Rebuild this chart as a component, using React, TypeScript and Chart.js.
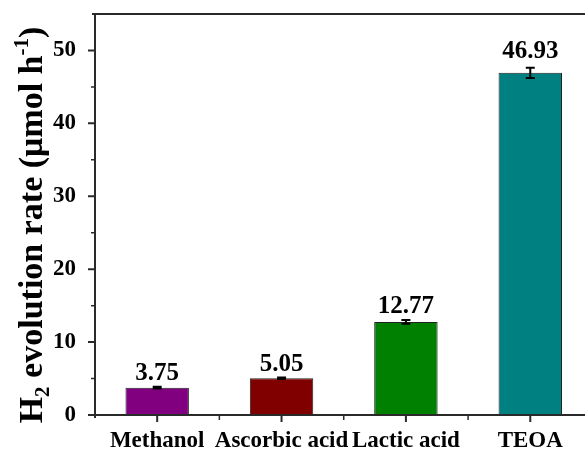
import React, { useEffect, useRef } from "react";
import { Chart, registerables } from "chart.js";

Chart.register(...registerables);

// Sacrificial agents and their H2 evolution rates (µmol h^-1)
const categories = ["Methanol", "Ascorbic acid", "Lactic acid", "TEOA"];
const rates = [3.75, 5.05, 12.77, 46.93];
const rateErrors = [0.12, 0.1, 0.25, 0.7];
const barColors = ["#800080", "#800000", "#008000", "#008080"];
const yMajorTicks = [0, 10, 20, 30, 40, 50];
const yMinorTicks = [5, 15, 25, 35, 45];
const yMax = 55;
// x axis runs from half a slot before the first bar; the frame is cut on the right
const xMin = -0.5;
const xMax = 3.44;

const SERIF = "'Liberation Serif', 'Times New Roman', serif";
const AXIS_COLOR = "#2a2a2a";
const HIDDEN = "rgba(0,0,0,0)";

// Axes, ticks, error bars, value labels and the y-axis title
const annotationPlugin = {
  id: "annotations",
  afterDraw(chart: any) {
    const { ctx, chartArea, scales, width } = chart;
    const xs = scales.x;
    const ys = scales.y;
    const { left, top, bottom } = chartArea;
    ctx.save();

    // axis lines: left, bottom and the top edge of the frame
    ctx.strokeStyle = AXIS_COLOR;
    ctx.lineWidth = 2;
    ctx.beginPath();
    ctx.moveTo(left, top);
    ctx.lineTo(left, bottom + 3);
    ctx.moveTo(left - 3, bottom);
    ctx.lineTo(width, bottom);
    ctx.moveTo(left - 3, top);
    ctx.lineTo(width, top);
    ctx.stroke();

    // major ticks
    ctx.beginPath();
    yMajorTicks.forEach((v) => {
      const y = ys.getPixelForValue(v);
      ctx.moveTo(left - 7, y);
      ctx.lineTo(left, y);
    });
    categories.forEach((_, i) => {
      const x = xs.getPixelForValue(i);
      ctx.moveTo(x, bottom);
      ctx.lineTo(x, bottom + 7);
    });
    ctx.stroke();

    // minor ticks
    ctx.lineWidth = 1.5;
    ctx.beginPath();
    yMinorTicks.forEach((v) => {
      const y = ys.getPixelForValue(v);
      ctx.moveTo(left - 4, y);
      ctx.lineTo(left, y);
    });
    for (let i = 0; i < categories.length - 1; i++) {
      const x = xs.getPixelForValue(i + 0.5);
      ctx.moveTo(x, bottom);
      ctx.lineTo(x, bottom + 5);
    }
    ctx.stroke();

    // error bars and value labels
    categories.forEach((_, i) => {
      const x = xs.getPixelForValue(i);
      const yHi = ys.getPixelForValue(rates[i] + rateErrors[i]);
      const yLo = ys.getPixelForValue(rates[i] - rateErrors[i]);
      ctx.strokeStyle = "#000";
      ctx.lineWidth = 2;
      ctx.beginPath();
      ctx.moveTo(x, yHi);
      ctx.lineTo(x, yLo);
      ctx.moveTo(x - 4.5, yHi);
      ctx.lineTo(x + 4.5, yHi);
      ctx.moveTo(x - 4.5, yLo);
      ctx.lineTo(x + 4.5, yLo);
      ctx.stroke();

      ctx.fillStyle = "#000";
      ctx.font = `bold 25px ${SERIF}`;
      ctx.textAlign = "center";
      ctx.textBaseline = "alphabetic";
      ctx.fillText(rates[i].toFixed(2), x, yHi - 6 - rateErrors[i] * 6);
    });

    // rotated y-axis title with sub/superscripts
    const size = 34;
    const small = Math.round(size * 0.62);
    const parts = [
      { t: "H", f: size, dy: 0 },
      { t: "2", f: small, dy: size * 0.22 },
      { t: " evolution rate (\u03bcmol h", f: size, dy: 0 },
      { t: "-1", f: small, dy: -size * 0.42 },
      { t: ")", f: size, dy: 0 },
    ];
    let total = 0;
    const widths = parts.map((p) => {
      ctx.font = `bold ${p.f}px ${SERIF}`;
      const w = ctx.measureText(p.t).width;
      total += w;
      return w;
    });
    ctx.translate(42, 225);
    ctx.rotate(-Math.PI / 2);
    ctx.textAlign = "left";
    ctx.fillStyle = "#000";
    let cx = -total / 2;
    parts.forEach((p, i) => {
      ctx.font = `bold ${p.f}px ${SERIF}`;
      ctx.fillText(p.t, cx, p.dy);
      cx += widths[i];
    });
    ctx.restore();
  },
};

export default function App() {
  const canvasRef = useRef<HTMLCanvasElement | null>(null);

  useEffect(() => {
    const canvas = canvasRef.current;
    if (!canvas) return;
    const chart = new Chart(canvas, {
      type: "bar",
      data: {
        datasets: [
          {
            data: rates.map((r, i) => ({ x: i, y: r })),
            backgroundColor: barColors,
            borderColor: "#222",
            borderWidth: 1,
            barPercentage: 0.51,
            categoryPercentage: 1,
          },
        ],
      },
      options: {
        responsive: false,
        animation: false,
        devicePixelRatio: 1,
        layout: { padding: { top: 14, right: 0, left: 0, bottom: 0 } },
        plugins: {
          legend: { display: false },
          tooltip: { enabled: false },
          title: { display: false },
        },
        scales: {
          x: {
            type: "linear",
            min: xMin,
            max: xMax,
            offset: false,
            grid: {
              display: true,
              offset: false,
              drawOnChartArea: false,
              drawTicks: true,
              tickLength: 7,
              color: HIDDEN,
              tickColor: HIDDEN,
            },
            border: { display: false },
            ticks: {
              color: "#000",
              font: { family: SERIF, size: 23, weight: "bold" },
              padding: 5,
              maxRotation: 0,
              autoSkip: false,
              callback: (v: any) => categories[Number(v)] ?? "",
            },
            afterBuildTicks: (scale: any) => {
              scale.ticks = categories.map((_, i) => ({ value: i }));
            },
            afterFit: (scale: any) => {
              scale.height = 37;
              scale.paddingLeft = 0;
              scale.paddingRight = 0;
            },
          },
          y: {
            min: 0,
            max: yMax,
            grid: {
              display: true,
              drawOnChartArea: false,
              drawTicks: true,
              tickLength: 7,
              color: HIDDEN,
              tickColor: HIDDEN,
            },
            border: { display: false },
            ticks: {
              color: "#000",
              font: { family: SERIF, size: 23, weight: "bold" },
              padding: 12,
            },
            afterBuildTicks: (scale: any) => {
              scale.ticks = yMajorTicks.map((v) => ({ value: v }));
            },
            afterFit: (scale: any) => {
              scale.width = 95;
              scale.paddingTop = 0;
              scale.paddingBottom = 0;
            },
          },
        },
      },
      plugins: [annotationPlugin],
    });
    return () => chart.destroy();
  }, []);

  return (
    <div
      style={{
        position: "fixed",
        left: 0,
        top: 0,
        width: 585,
        height: 452,
        overflow: "hidden",
        background: "#fff",
      }}
    >
      <canvas ref={canvasRef} width={585} height={452} style={{ display: "block" }} />
    </div>
  );
}
